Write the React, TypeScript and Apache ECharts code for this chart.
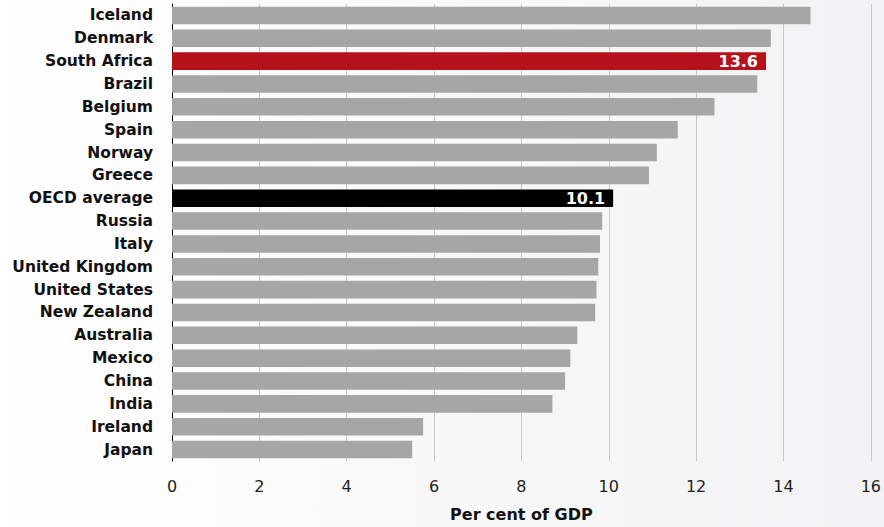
import React, { useEffect, useRef } from "react";
import * as echarts from "echarts";

const categories = [
  "Iceland", "Denmark", "South Africa", "Brazil", "Belgium", "Spain", "Norway", "Greece",
  "OECD average", "Russia", "Italy", "United Kingdom", "United States", "New Zealand",
  "Australia", "Mexico", "China", "India", "Ireland", "Japan",
];
const values = [
  14.62, 13.71, 13.6, 13.4, 12.42, 11.58, 11.1, 10.92,
  10.1, 9.85, 9.8, 9.76, 9.72, 9.69,
  9.28, 9.12, 9.0, 8.71, 5.75, 5.5,
];
const highlights: Record<string, string> = { "South Africa": "#b5121b", "OECD average": "#000000" };
const xTicks = [0, 2, 4, 6, 8, 10, 12, 14, 16];

const FONT = "DejaVu Sans";

export default function App() {
  const ref = useRef<HTMLDivElement>(null);
  useEffect(() => {
    if (!ref.current) return;
    const chart = echarts.init(ref.current, null, { renderer: "svg" });
    const cats = [...categories].reverse();
    const vals = [...values].reverse();
    chart.setOption({
      animation: false,
      backgroundColor: {
        type: "linear", x: 0, y: 0, x2: 1, y2: 0,
        colorStops: [{ offset: 0, color: "#ffffff" }, { offset: 1, color: "#f2f2f4" }],
      },
      grid: { left: 172, right: 11, top: 4, bottom: 63, containLabel: false },
      xAxis: {
        type: "value", min: xTicks[0], max: xTicks[xTicks.length - 1], interval: 2,
        axisLine: { show: false }, axisTick: { show: false },
        splitLine: { show: true, lineStyle: { color: "#c6c6c6", width: 1 } },
        axisLabel: { color: "#222", fontSize: 16, fontFamily: FONT, margin: 17 },
        name: "Per cent of GDP", nameLocation: "middle", nameGap: 45,
        nameTextStyle: { color: "#111", fontSize: 16, fontWeight: "bold", fontFamily: FONT },
      },
      yAxis: {
        type: "category", data: cats,
        axisLine: { show: true, lineStyle: { color: "#000", width: 1 } },
        axisTick: { show: false },
        axisLabel: { color: "#111", fontSize: 15.5, fontWeight: "bold", fontFamily: FONT, margin: 19 },
      },
      series: [{
        type: "bar", barWidth: "77%",
        data: vals.map((v, i) => {
          const c = highlights[cats[i]];
          return c
            ? {
                value: v, itemStyle: { color: c },
                label: {
                  show: true, position: "insideRight", distance: 8, color: "#fff",
                  fontSize: 16, fontWeight: "bold", fontFamily: FONT,
                  formatter: (p: any) => p.value.toFixed(1),
                },
              }
            : { value: v, itemStyle: { color: "#a6a6a6" } };
        }),
      }],
    });
    return () => chart.dispose();
  }, []);
  return <div ref={ref} style={{ position: "absolute", left: 0, top: 0, width: 884, height: 527 }} />;
}
